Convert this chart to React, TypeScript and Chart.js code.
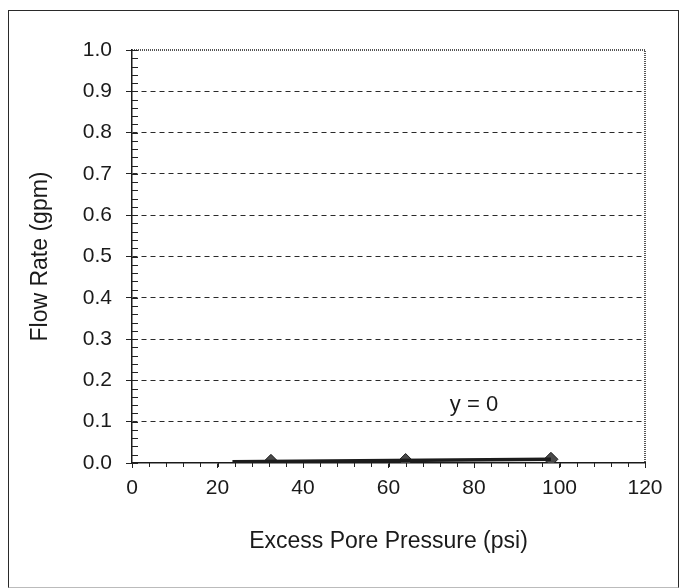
import React, { useEffect, useRef } from "react";
import { Chart, registerables } from "chart.js";

Chart.register(...registerables);

// ---- data ----
const pressurePsi = [32.5, 64, 98];
const flowGpm = [0.004, 0.006, 0.009];
const trendX = [23.5, 98];
const trendY = [0.003, 0.009];
const xTickValues = [0, 20, 40, 60, 80, 100, 120];
const yTickValues = [0, 0.1, 0.2, 0.3, 0.4, 0.5, 0.6, 0.7, 0.8, 0.9, 1.0];
const trendLabel = "y = 0";
const trendLabelAt = { x: 80, y: 0.14 };
const xTitle = "Excess Pore Pressure (psi)";
const yTitle = "Flow Rate (gpm)";

const FONT = '"Liberation Sans", Arial, sans-serif';

const decorPlugin = {
  id: "decor",
  afterDraw(chart: any) {
    const { ctx, chartArea: a, scales } = chart;
    const x = scales.x;
    const y = scales.y;
    ctx.save();
    // top & right plot border (grey, textured)
    ctx.strokeStyle = "#555";
    ctx.lineWidth = 2;
    ctx.setLineDash([1, 1]);
    ctx.beginPath();
    ctx.moveTo(a.left, a.top);
    ctx.lineTo(a.right, a.top);
    ctx.lineTo(a.right, a.bottom);
    ctx.stroke();
    ctx.setLineDash([]);
    // minor ticks on y (inside)
    ctx.strokeStyle = "#222";
    ctx.lineWidth = 1;
    ctx.beginPath();
    for (let i = 0; i <= 50; i++) {
      const py = Math.round(y.getPixelForValue(i * 0.02)) + 0.5;
      ctx.moveTo(a.left, py);
      ctx.lineTo(a.left + 6, py);
    }
    // minor ticks on x (outside, below)
    for (let i = 0; i <= 30; i++) {
      const px = Math.round(x.getPixelForValue(i * 4)) + 0.5;
      ctx.moveTo(px, a.bottom);
      ctx.lineTo(px, a.bottom + 4);
    }
    ctx.stroke();
    // trendline equation label
    ctx.fillStyle = "#1a1a1a";
    ctx.font = `22px ${FONT}`;
    ctx.textAlign = "center";
    ctx.textBaseline = "middle";
    ctx.fillText(trendLabel, x.getPixelForValue(trendLabelAt.x), y.getPixelForValue(trendLabelAt.y));
    ctx.restore();
  },
};

export default function App() {
  const ref = useRef<HTMLCanvasElement>(null);

  useEffect(() => {
    if (!ref.current) return;
    const chart = new Chart(ref.current, {
      type: "scatter",
      data: {
        datasets: [
          {
            label: "trend",
            data: trendX.map((v, i) => ({ x: v, y: trendY[i] })),
            showLine: true,
            borderColor: "#1c1c1c",
            borderWidth: 3.5,
            pointRadius: 0,
          },
          {
            label: "flow",
            data: pressurePsi.map((v, i) => ({ x: v, y: flowGpm[i] })),
            showLine: false,
            pointStyle: "rectRot",
            pointRadius: 7,
            backgroundColor: "#4a4a4a",
            borderColor: "#1e1e1e",
            borderWidth: 1,
          },
        ],
      },
      options: {
        responsive: false,
        animation: false,
        events: [],
        layout: { padding: { top: 50, right: 42, left: 0, bottom: 0 } },
        plugins: {
          legend: { display: false },
          tooltip: { enabled: false },
          title: { display: false },
        },
        scales: {
          x: {
            type: "linear",
            min: 0,
            max: 120,
            afterFit: (s: any) => {
              s.height = 125;
            },
            afterBuildTicks: (s: any) => {
              s.ticks = xTickValues.map((v) => ({ value: v }));
            },
            ticks: {
              color: "#1a1a1a",
              font: { family: FONT, size: 21 },
              padding: 8,
              maxRotation: 0,
              callback: (v: any) => String(v),
            },
            grid: {
              drawOnChartArea: false,
              drawTicks: true,
              tickLength: 5,
              tickColor: "#222",
            },
            border: { display: true, color: "#1a1a1a", width: 1.5 },
            title: {
              display: true,
              text: xTitle,
              color: "#1a1a1a",
              font: { family: FONT, size: 23 },
              padding: { top: 0, bottom: 33 },
            },
          },
          y: {
            type: "linear",
            min: 0,
            max: 1.0,
            afterFit: (s: any) => {
              s.width = 132;
            },
            afterBuildTicks: (s: any) => {
              s.ticks = yTickValues.map((v) => ({ value: v }));
            },
            ticks: {
              color: "#1a1a1a",
              font: { family: FONT, size: 21 },
              padding: 14,
              callback: (v: any) => Number(v).toFixed(1),
            },
            grid: {
              drawOnChartArea: true,
              drawTicks: true,
              tickLength: 6,
              tickColor: "#222",
              color: (c: any) =>
                c.tick && (c.tick.value === 0 || c.tick.value === 1) ? "rgba(0,0,0,0)" : "#2a2a2a",
              lineWidth: 1,
            },
            border: { display: true, color: "#1a1a1a", width: 1.5, dash: [5, 4] },
            title: {
              display: true,
              text: yTitle,
              color: "#1a1a1a",
              font: { family: FONT, size: 23 },
              padding: { top: 27, bottom: 0 },
            },
          },
        },
      },
      plugins: [decorPlugin],
    });
    return () => chart.destroy();
  }, []);

  return (
    <div style={{ position: "fixed", left: 0, top: 0, width: 687, height: 588, background: "#fff" }}>
      <div
        style={{
          position: "absolute",
          left: 8,
          top: 10,
          width: 671,
          height: 578,
          boxSizing: "border-box",
          border: "1.5px solid #2a2a2a",
          borderBottom: "1px solid #bbb",
        }}
      />
      <canvas ref={ref} width={687} height={588} style={{ position: "absolute", left: 0, top: 0 }} />
    </div>
  );
}
